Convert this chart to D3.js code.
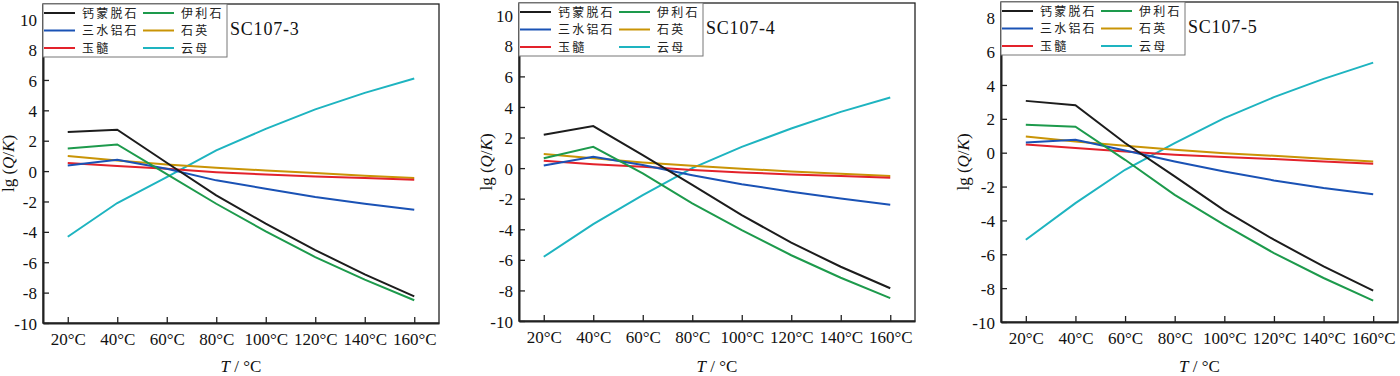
<!DOCTYPE html>
<html>
<head>
<meta charset="utf-8">
<script src="https://cdn.jsdelivr.net/npm/d3@7"></script>
<style>
  body { margin: 0; background: #fff; }
  text { font-family: "Liberation Serif", "Noto Sans CJK SC", serif; }
</style>
</head>
<body>
<svg width="1400" height="376"></svg>
<script>
// categories and series
var temps = ['20°C', '40°C', '60°C', '80°C', '100°C', '120°C', '140°C', '160°C'];
var names = ['钙蒙脱石', '三水铝石', '玉髓', '伊利石', '石英', '云母'];
var colors = ['#1c1c1c', '#1a52b5', '#e3222b', '#1d9a4c', '#c99406', '#1eb4c0'];

// SC107-3
var p3_cams = [2.57, 2.72, 0.55, -1.6, -3.46, -5.2, -6.8, -8.25];
var p3_gibb = [0.37, 0.75, 0.15, -0.61, -1.16, -1.7, -2.15, -2.54];
var p3_chal = [0.53, 0.33, 0.15, -0.07, -0.22, -0.35, -0.46, -0.57];
var p3_illi = [1.49, 1.75, -0.2, -2.15, -3.97, -5.66, -7.15, -8.5];
var p3_quar = [0.99, 0.7, 0.44, 0.22, 0.04, -0.13, -0.3, -0.46];
var p3_mica = [-4.32, -2.1, -0.4, 1.36, 2.78, 4.06, 5.15, 6.1];

// SC107-4
var p4_cams = [2.18, 2.75, 0.85, -1.1, -3.07, -4.88, -6.45, -7.86];
var p4_gibb = [0.17, 0.74, 0.2, -0.46, -1.05, -1.55, -1.98, -2.4];
var p4_chal = [0.48, 0.26, 0.09, -0.13, -0.28, -0.41, -0.52, -0.63];
var p4_illi = [0.65, 1.39, -0.35, -2.3, -4.05, -5.7, -7.17, -8.5];
var p4_quar = [0.92, 0.65, 0.37, 0.15, -0.04, -0.22, -0.37, -0.52];
var p4_mica = [-5.8, -3.66, -1.76, 0.0, 1.39, 2.59, 3.68, 4.62];

// SC107-5
var p5_cams = [3.06, 2.8, 0.57, -1.4, -3.41, -5.14, -6.72, -8.15];
var p5_gibb = [0.6, 0.76, 0.13, -0.52, -1.11, -1.64, -2.09, -2.45];
var p5_chal = [0.49, 0.27, 0.07, -0.12, -0.26, -0.38, -0.52, -0.65];
var p5_illi = [1.65, 1.53, -0.42, -2.49, -4.26, -5.93, -7.4, -8.74];
var p5_quar = [0.96, 0.66, 0.41, 0.17, -0.03, -0.18, -0.36, -0.52];
var p5_mica = [-5.14, -2.98, -1.01, 0.56, 2.04, 3.28, 4.36, 5.32];

var panels = [
  { title: 'SC107-3', left: 43, right: 439, top: 4, bottom: 323, ymax: 11, yticks: d3.range(-10, 11, 2),
    series: [p3_cams, p3_gibb, p3_chal, p3_illi, p3_quar, p3_mica], ylabX: 14 },
  { title: 'SC107-4', left: 519, right: 915, top: 3, bottom: 321, ymax: 10.8, yticks: d3.range(-10, 11, 2),
    series: [p4_cams, p4_gibb, p4_chal, p4_illi, p4_quar, p4_mica], ylabX: 492 },
  { title: 'SC107-5', left: 1001, right: 1398, top: 2, bottom: 322, ymax: 8.9, yticks: d3.range(-10, 9, 2),
    series: [p5_cams, p5_gibb, p5_chal, p5_illi, p5_quar, p5_mica], ylabX: 969 }
];

var svg = d3.select('svg');

panels.forEach(function (p) {
  var g = svg.append('g');

  var x = d3.scalePoint().domain(temps).range([p.left, p.right]).padding(0.5);
  var y = d3.scaleLinear().domain([-10, p.ymax]).range([p.bottom, p.top]);

  // frame
  g.append('rect')
    .attr('x', p.left).attr('y', p.top)
    .attr('width', p.right - p.left).attr('height', p.bottom - p.top)
    .attr('fill', 'none').attr('stroke', '#222').attr('stroke-width', 1.3);

  // lines
  var line = d3.line()
    .x(function (d, i) { return x(temps[i]); })
    .y(function (d) { return y(d); });

  [5, 4, 2, 1, 3, 0].forEach(function (k) {
    g.append('path')
      .datum(p.series[k])
      .attr('d', line)
      .attr('fill', 'none')
      .attr('stroke', colors[k])
      .attr('stroke-width', 2);
  });

  // axes
  var xAxis = g.append('g')
    .attr('transform', 'translate(0,' + p.bottom + ')')
    .call(d3.axisBottom(x).tickSizeInner(-6).tickSizeOuter(0).tickPadding(10));
  var yAxis = g.append('g')
    .attr('transform', 'translate(' + p.left + ',0)')
    .call(d3.axisLeft(y).tickValues(p.yticks).tickSizeInner(-6).tickSizeOuter(0).tickPadding(6)
      .tickFormat(function (d) { return String(d); }));

  [xAxis, yAxis].forEach(function (a) {
    a.select('.domain').attr('stroke', '#222').attr('stroke-width', 2);
    a.selectAll('.tick line').attr('stroke', '#222').attr('stroke-width', 1.3);
    a.selectAll('.tick text').attr('font-size', 17).attr('fill', '#111')
      .style('font-family', '"Liberation Serif", serif');
  });
  yAxis.selectAll('.tick text').attr('dy', '0.36em');

  // axis titles
  var xt = g.append('text')
    .attr('x', (p.left + p.right) / 2).attr('y', 372)
    .attr('text-anchor', 'middle').attr('font-size', 17).attr('fill', '#111');
  xt.append('tspan').attr('font-style', 'italic').text('T');
  xt.append('tspan').text(' / °C');

  var yt = g.append('text')
    .attr('transform', 'translate(' + p.ylabX + ',' + (p.top + p.bottom) / 2 + ') rotate(-90)')
    .attr('text-anchor', 'middle').attr('font-size', 17).attr('fill', '#111');
  yt.append('tspan').text('lg (');
  yt.append('tspan').attr('font-style', 'italic').text('Q');
  yt.append('tspan').text('/');
  yt.append('tspan').attr('font-style', 'italic').text('K');
  yt.append('tspan').text(')');

  // legend
  var lg = g.append('g').attr('transform', 'translate(' + p.left + ',' + p.top + ')');
  lg.append('rect')
    .attr('x', 0).attr('y', 0).attr('width', 184).attr('height', 53)
    .attr('fill', '#fff').attr('stroke', '#777').attr('stroke-width', 1);

  names.forEach(function (n, i) {
    var col = Math.floor(i / 3), row = i % 3;
    var lx = 1 + col * 99, ly = 9 + row * 17.5;
    lg.append('line')
      .attr('x1', lx).attr('x2', lx + 31).attr('y1', ly).attr('y2', ly)
      .attr('stroke', colors[i]).attr('stroke-width', 2);
    lg.append('text')
      .attr('x', lx + 38).attr('y', ly + 4.5)
      .attr('font-size', 12).attr('fill', '#222')
      .attr('letter-spacing', 2.2)
      .style('font-family', '"Noto Sans CJK SC", sans-serif')
      .text(n);
  });

  g.append('text')
    .attr('x', p.left + 187).attr('y', p.top + 31)
    .attr('font-size', 18).attr('fill', '#111')
    .attr('letter-spacing', 0.8)
    .text(p.title);
});
</script>
</body>
</html>
